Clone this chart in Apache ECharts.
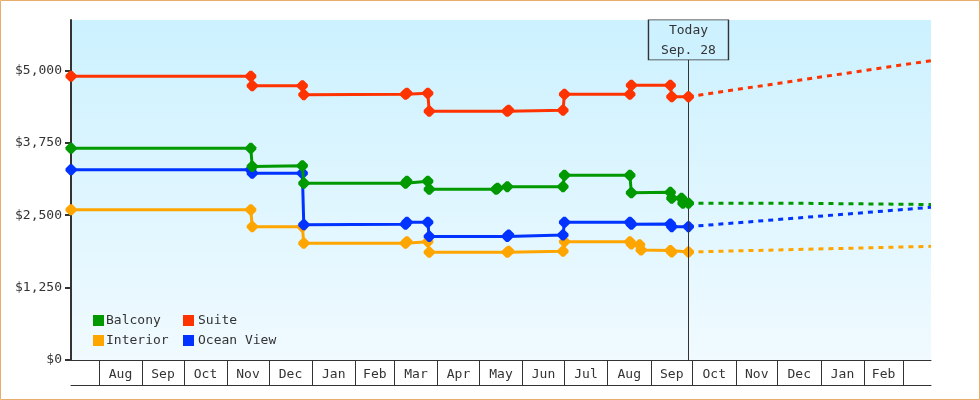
<!DOCTYPE html>
<html><head><meta charset="utf-8">
<style>html,body{margin:0;padding:0;background:#fff}#c{width:980px;height:400px}</style>
<script src="https://cdn.jsdelivr.net/npm/echarts@6/dist/echarts.min.js"></script>
</head><body><div id="c"></div>
<script>
const monthLabels = ['Aug','Sep','Oct','Nov','Dec','Jan','Feb','Mar','Apr','May','Jun','Jul','Aug','Sep','Oct','Nov','Dec','Jan','Feb'];
const monthStarts = ['2012-08-01','2012-09-01','2012-10-01','2012-11-01','2012-12-01','2013-01-01','2013-02-01','2013-03-01','2013-04-01','2013-05-01','2013-06-01','2013-07-01','2013-08-01','2013-09-01','2013-10-01','2013-11-01','2013-12-01','2014-01-01','2014-02-01','2014-03-01'];
const yTicks = [0,1250,2500,3750,5000];
const axisStart = '2012-07-12', axisEnd = '2014-03-21', today = '2013-09-28';
const todayLabel = 'Today\nSep. 28';

const suite = [['2012-07-12',4900],['2012-11-18',4900],['2012-11-19',4737],['2012-12-25',4737],['2012-12-26',4583],['2013-03-09',4588],['2013-03-10',4607],['2013-03-25',4607],['2013-03-26',4295],['2013-05-21',4295],['2013-05-22',4312],['2013-06-30',4312],['2013-07-01',4588],['2013-08-17',4588],['2013-08-18',4745],['2013-09-15',4745],['2013-09-16',4548],['2013-09-28',4548]];
const suiteFuture = [['2013-09-28',4548],['2014-03-21',5170]];
const balcony = [['2012-07-12',3655],['2012-11-18',3655],['2012-11-19',3344],['2012-12-25',3355],['2012-12-26',3052],['2013-03-09',3052],['2013-03-10',3086],['2013-03-25',3086],['2013-03-26',2948],['2013-05-13',2948],['2013-05-14',2965],['2013-05-21',2994],['2013-06-30',2994],['2013-07-01',3190],['2013-08-17',3190],['2013-08-18',2890],['2013-09-15',2895],['2013-09-16',2792],['2013-09-23',2792],['2013-09-24',2706],['2013-09-28',2706]];
const balconyFuture = [['2013-09-28',2706],['2013-12-22',2706],['2013-12-23',2689],['2014-03-21',2685]];
const ocean = [['2012-07-12',3287],['2012-11-18',3287],['2012-11-19',3224],['2012-12-25',3224],['2012-12-26',2337],['2013-03-09',2343],['2013-03-10',2378],['2013-03-25',2378],['2013-03-26',2135],['2013-05-21',2135],['2013-05-22',2159],['2013-06-30',2159],['2013-07-01',2378],['2013-08-17',2378],['2013-08-18',2343],['2013-09-15',2349],['2013-09-16',2303],['2013-09-28',2303]];
const oceanFuture = [['2013-09-28',2303],['2014-03-21',2637]];
const interior = [['2012-07-12',2596],['2012-11-18',2596],['2012-11-19',2303],['2012-12-25',2303],['2012-12-26',2015],['2013-03-09',2015],['2013-03-10',2044],['2013-03-25',2044],['2013-03-26',1860],['2013-05-21',1860],['2013-05-22',1877],['2013-06-30',1877],['2013-07-01',2044],['2013-08-17',2044],['2013-08-18',2003],['2013-08-24',1990],['2013-08-25',1900],['2013-09-15',1893],['2013-09-16',1865],['2013-09-28',1865]];
const interiorFuture = [['2013-09-28',1865],['2014-03-21',1963]];

const T = s => new Date(s + 'T00:00:00Z').getTime();
const toPts = a => a.map(p => [T(p[0]), p[1]]);
const INK = '#333333', FONT = '"DejaVu Sans Mono", monospace';
const MARK = 'path://M3.5 0L5.5 0L9 3.5L9 5.5L5.5 9L3.5 9L0 5.5L0 3.5Z';
const starts = monthStarts.map(T);
const mids = starts.slice(0, -1).map((s, i) => (s + starts[i + 1]) / 2);

function solid(name, color, data, z) {
  return {name, type:'line', data:toPts(data), z, clip:false, animation:false, silent:true,
    symbol:MARK, symbolSize:11, showAllSymbol:true,
    lineStyle:{color, width:3}, itemStyle:{color}};
}
function dashed(name, color, data, z) {
  return {name, type:'line', data:toPts(data), z, clip:true, animation:false, silent:true,
    symbol:'none', lineStyle:{color, width:3, type:[5,5]}, itemStyle:{color}};
}
const C = {b:'#009900', s:'#ff3300', i:'#ffa500', o:'#0033ff'};
const chart = echarts.init(document.getElementById('c'), null, {renderer:'canvas'});
chart.setOption({
  animation:false, backgroundColor:'#fff',
  textStyle:{fontFamily:FONT},
  graphic:[{type:'rect', silent:true, z:100, shape:{x:0.5,y:0.5,width:979,height:399},
    style:{fill:'none', stroke:'#e8ad6b', lineWidth:1}}],
  grid:{left:71, right:49, top:20, bottom:40, show:true, borderWidth:0,
    backgroundColor:new echarts.graphic.LinearGradient(0,0,0,1,[{offset:0,color:'#ccf1ff'},{offset:1,color:'#f0faff'}])},
  legend:[
    {data:['Balcony','Interior'], orient:'vertical', left:93, top:314, icon:'rect', itemWidth:11, itemHeight:11, itemGap:7,
      selectedMode:false, padding:0, textStyle:{color:INK, fontFamily:FONT, fontSize:13, padding:[0,0,0,-3]}},
    {data:['Suite','Ocean View'], orient:'vertical', left:183, top:314, icon:'rect', itemWidth:11, itemHeight:11, itemGap:7,
      selectedMode:false, padding:0, textStyle:{color:INK, fontFamily:FONT, fontSize:13, padding:[0,0,0,-1]}}
  ],
  xAxis:[
    {type:'value', min:T(axisStart), max:T(axisEnd), splitLine:{show:false},
      axisLine:{show:true, onZero:false, lineStyle:{color:INK, width:1}},
      axisTick:{show:true, length:25, customValues:starts, lineStyle:{color:INK, width:1}},
      axisLabel:{show:true, margin:8, hideOverlap:false, showMinLabel:true, showMaxLabel:true, customValues:mids, color:INK, fontFamily:FONT, fontSize:13,
        formatter:v => monthLabels[mids.indexOf(v)]}},
    {type:'value', min:T(axisStart), max:T(axisEnd), position:'bottom', offset:25, splitLine:{show:false},
      axisLine:{show:true, onZero:false, lineStyle:{color:INK, width:1}}, axisTick:{show:false}, axisLabel:{show:false}}
  ],
  yAxis:{type:'value', min:0, max:5872, splitLine:{show:false},
    axisLine:{show:true, onZero:false, lineStyle:{color:INK, width:2}},
    axisTick:{show:true, length:6, customValues:yTicks, lineStyle:{color:INK, width:2}},
    axisLabel:{margin:9, customValues:yTicks, color:INK, fontFamily:FONT, fontSize:13, verticalAlignMinLabel:'middle', verticalAlignMaxLabel:'middle',
      formatter:v => '$' + Number(v).toLocaleString('en-US')}},
  series:[
    {type:'line', name:'Today', data:[], z:1, silent:true, animation:false,
      markLine:{silent:true, symbol:'none', animation:false, label:{show:false},
        lineStyle:{color:INK, width:1, type:'solid'}, data:[{xAxis:T(today)}]},
      markPoint:{silent:true, animation:false, symbol:'rect', symbolSize:[80,40],
        itemStyle:{color:'#cdf1ff', borderColor:INK, borderWidth:1},
        label:{show:true, position:'inside', offset:[0,1], formatter:todayLabel, color:INK, fontFamily:FONT, fontSize:13, lineHeight:20},
        data:[{coord:[T(today), 5527]}]}},
    solid('Interior', C.i, interior, 3), dashed('Interior', C.i, interiorFuture, 3),
    solid('Ocean View', C.o, ocean, 4), dashed('Ocean View', C.o, oceanFuture, 4),
    solid('Suite', C.s, suite, 5), dashed('Suite', C.s, suiteFuture, 5),
    solid('Balcony', C.b, balcony, 6), dashed('Balcony', C.b, balconyFuture, 6)
  ]
});
</script></body></html>
